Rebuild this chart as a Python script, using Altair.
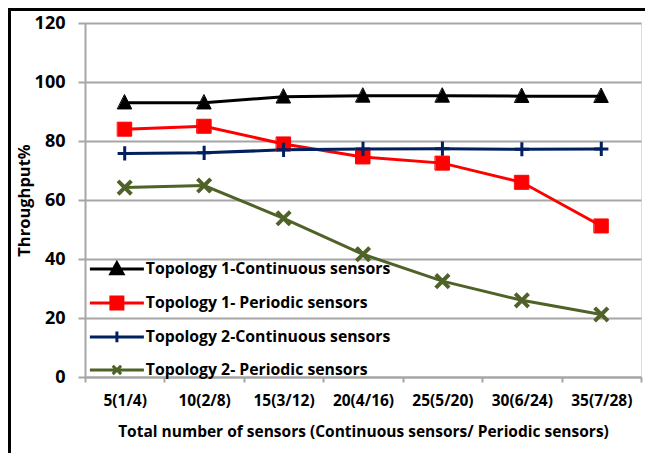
import altair as alt
import pandas as pd

cats = ["5(1/4)", "10(2/8)", "15(3/12)", "20(4/16)", "25(5/20)", "30(6/24)", "35(7/28)"]
series = [
    "Topology 1-Continuous sensors",
    "Topology 1- Periodic sensors",
    "Topology 2-Continuous sensors",
    "Topology 2- Periodic sensors",
]
t1c = [93.0, 93.0, 95.0, 95.3, 95.3, 95.2, 95.2]
t1p = [84.0, 85.0, 79.0, 74.6, 72.5, 66.0, 51.2]
t2c = [75.8, 76.0, 77.0, 77.3, 77.4, 77.2, 77.3]
t2p = [64.2, 64.9, 53.8, 41.6, 32.5, 26.0, 21.2]
colors = ["#000000", "#FF0000", "#002060", "#4F6228"]

# marker shapes (chart) and legend symbols (line + marker)
shapes = [
    "M0,-1.1L1,0.9L-1,0.9Z",
    "M-1,-1H1V1H-1Z",
    "M-0.8,0H0.8M0,-0.8V0.8",
    "M-0.75,-0.75L0.75,0.75M-0.75,0.75L0.75,-0.75",
]
legend_shapes = [
    "M-4.5,0H4.5M0,-1L1,0.8L-1,0.8Z",
    "M-4.5,0H4.5M-1,-1H1V1H-1Z",
    "M-4.5,0H4.5M0,-0.9V0.9",
    "M-4.5,0H4.5M-0.7,-0.7L0.7,0.7M-0.7,0.7L0.7,-0.7",
]

rows = []
for s, vals in zip(series, [t1c, t1p, t2c, t2p]):
    for i, (c, v) in enumerate(zip(cats, vals)):
        rows.append({"cat": c, "idx": i, "series": s, "value": v})
df = pd.DataFrame(rows)

FONT = "Open Sans"
GRID = "#A6A6A6"

x_enc = alt.X(
    "cat:N",
    sort=cats,
    scale=alt.Scale(type="band", paddingInner=0, paddingOuter=0),
    axis=alt.Axis(
        title="Total number of sensors (Continuous sensors/ Periodic sensors)",
        labelAngle=0,
        labelFont=FONT,
        labelFontWeight="bold",
        labelFontSize=15.5,
        labelColor="#000000",
        labelPadding=11,
        titleFont=FONT,
        titleFontWeight="bold",
        titleFontSize=15.5,
        titleColor="#000000",
        titlePadding=16,
        tickBand="extent",
        tickSize=5,
        tickColor=GRID,
        tickWidth=2,
        domainColor=GRID,
        domainWidth=2,
        grid=False,
    ),
)
y_enc = alt.Y(
    "value:Q",
    scale=alt.Scale(domain=[0, 120], nice=False, zero=True),
    axis=alt.Axis(
        title="Throughput%",
        values=[0, 20, 40, 60, 80, 100, 120],
        labelFont=FONT,
        labelFontWeight="bold",
        labelFontSize=18,
        labelColor="#000000",
        labelPadding=13,
        titleFont=FONT,
        titleFontWeight="bold",
        titleFontSize=16.5,
        titleColor="#000000",
        titlePadding=2,
        tickSize=7,
        tickColor=GRID,
        tickWidth=2,
        domainColor=GRID,
        domainWidth=2,
        grid=True,
        gridColor=GRID,
        gridWidth=2,
    ),
)

lines = alt.Chart(df).mark_line(strokeWidth=3).encode(
    x=x_enc,
    y=y_enc,
    color=alt.Color("series:N", scale=alt.Scale(domain=series, range=colors), legend=None),
    order=alt.Order("idx:Q"),
)

def marker_layer(names, width):
    return alt.Chart(df).transform_filter(
        alt.FieldOneOfPredicate(field="series", oneOf=names)
    ).mark_point(opacity=1, size=196, strokeWidth=width, strokeCap="square").encode(
        x=alt.X("cat:N", sort=cats),
        y="value:Q",
        fill=alt.Fill("series:N", scale=alt.Scale(domain=series, range=colors), legend=None),
        stroke=alt.Stroke("series:N", scale=alt.Scale(domain=series, range=colors), legend=None),
        shape=alt.Shape("series:N", scale=alt.Scale(domain=series, range=shapes), legend=None),
    )

points_filled = marker_layer(series[:2], 1)
points_plus = marker_layer(series[2:3], 3)
points_x = marker_layer(series[3:], 4)

legend_def = alt.Legend(
    title=None,
    orient="none",
    legendX=24,
    legendY=238,
    direction="vertical",
    rowPadding=10,
    labelOffset=21,
    symbolSize=144,
    symbolStrokeWidth=3,
    labelFont=FONT,
    labelFontWeight="bold",
    labelFontSize=15.8,
    labelColor="#000000",
    labelLimit=400,
    padding=0,
)

legend_layer = alt.Chart(df).transform_filter("false").mark_point(opacity=1, size=144).encode(
    x=alt.X("cat:N", sort=cats),
    y="value:Q",
    fill=alt.Fill("series:N", scale=alt.Scale(domain=series, range=colors), legend=legend_def),
    stroke=alt.Stroke("series:N", scale=alt.Scale(domain=series, range=colors), legend=legend_def),
    shape=alt.Shape("series:N", scale=alt.Scale(domain=series, range=legend_shapes), legend=legend_def),
)

border_left = alt.Chart(df).mark_rule(color="#000000", strokeWidth=3).encode(
    x=alt.value(-75.5), y=alt.value(-15), y2=alt.value(430)
)
border_top = alt.Chart(df).mark_rule(color="#000000", strokeWidth=3).encode(
    x=alt.value(-77), x2=alt.value(560), y=alt.value(-13.5)
)

chart = (
    alt.layer(lines, points_filled, points_plus, points_x, legend_layer, border_left, border_top)
    .resolve_scale(shape="independent", fill="independent", stroke="independent", color="independent")
    .resolve_legend(shape="independent", fill="independent", stroke="independent")
    .properties(
        width=556,
        height=354,
        autosize=alt.AutoSizeParams(type="none"),
        padding={"left": 77, "top": 15, "right": 4, "bottom": 76},
    )
    .configure_view(strokeWidth=0)
    .configure(background="#FFFFFF")
)

chart.save("out.html", embed_options={"renderer": "svg", "actions": False})
